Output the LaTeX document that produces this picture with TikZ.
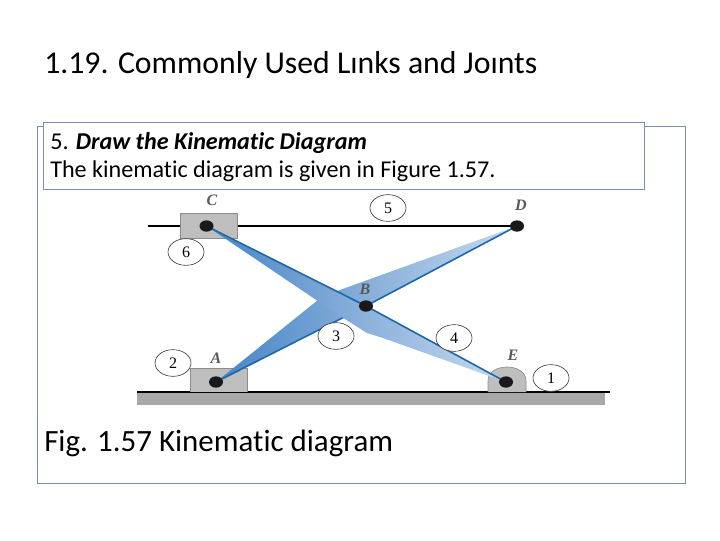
\documentclass[tikz,border=0pt]{standalone}
\usepackage{fontspec}
\setmainfont[Ligatures=NoCommon]{Carlito}
\newfontfamily\labelfont{Liberation Serif}
\usetikzlibrary{backgrounds}
\usetikzlibrary{shapes.geometric}

\definecolor{framecol}{RGB}{120,145,168}
\definecolor{blockcol}{RGB}{190,190,190}
\definecolor{groundcol}{RGB}{168,168,168}
\definecolor{linkedge}{RGB}{28,104,168}
\definecolor{linkdark}{RGB}{70,132,198}
\definecolor{linklight}{RGB}{200,217,238}

\tikzset{
  frame/.style={draw=framecol,line width=0.7pt},
  pin/.style={ellipse,fill=black!90,minimum width=10.5pt,minimum height=8.5pt,inner sep=0pt},
  num/.style={ellipse,draw=black!80,line width=0.45pt,fill=white,minimum width=27pt,minimum height=20pt,inner sep=0pt,font=\labelfont\fontsize{12}{14}\selectfont},
  letter/.style={font=\labelfont\bfseries\itshape\fontsize{12}{14}\selectfont,text=black!65},
  block/.style={draw=black!45,line width=0.5pt,fill=blockcol},
  heading/.style={anchor=base west,inner sep=0pt},
  linkedgeline/.style={draw=linkedge,line width=1.2pt},
}

\begin{document}
\begin{tikzpicture}[x=0.75pt,y=0.75pt,yscale=-1,xscale=1]
\useasboundingbox (0,0) rectangle (720,540);

% Frames
\draw [frame] (37,126) rectangle (685,483);
\node (textbox) [frame,fill=white,anchor=north west,minimum width=450.5pt,minimum height=50pt,inner sep=0pt] at (43,122) {};

% Text Node
\node (title) [heading,font=\fontsize{23.8}{26}\selectfont] at (44,73) {1.19. Commonly Used Lınks and Joınts};
\node (step) [heading,font=\fontsize{18.1}{20}\selectfont] at (50,149) {5. \textbf{\textit{Draw the Kinematic Diagram}}};
\node (given) [heading,font=\fontsize{18.1}{20}\selectfont] at (50,177) {The kinematic diagram is given in Figure 1.57.};
\node (caption) [heading,font=\fontsize{23.2}{26}\selectfont] at (44,451) {Fig. 1.57 Kinematic diagram};

% Pins
\node (C) [pin] at (206.5,226) {};
\node (D) [pin] at (517,226) {};
\node (B) [pin] at (366,306) {};
\node (A) [pin] at (216,382) {};
\node (E) [pin] at (506,382) {};
\coordinate (railstart) at (148,226);

\begin{pgfonlayer}{background}
%Ground
\fill [groundcol] (137,393) rectangle (605,405);
\draw [line width=1.3pt] (137,392) -- (610,392);
%Rail
\draw [line width=1.2pt] (railstart) -- (D.center);
%Blocks
\draw [block] (180,213) rectangle (237,238);
\draw [block] (190,392) -- (190,368) -- (247,368) -- (247,392);
\draw [block] (488,392) -- (488,381) .. controls (488,372) and (497,367) .. (507,367) .. controls (517,367) and (526,372) .. (526,381) -- (526,392);
%Link A-B-D
\shade [left color=linkdark,right color=linklight] (A.center) -- (318,300) -- (337,291) -- (D.center) -- (B.center) -- cycle;
\draw [linkedgeline] (A.center) -- (B.center) -- (D.center);
%Link C-B-E
\shade [left color=linkdark,right color=linklight] (C.center) -- (B.center) -- (E.center) -- (383,338) -- (367,333) -- (340,316) -- cycle;
\draw [linkedgeline] (C.center) -- (B.center) -- (E.center);
\end{pgfonlayer}

% Text Node
\node (labelC) [letter] at (212,200) {C};
\node (labelD) [letter] at (521,205) {D};
\node (labelB) [letter] at (365,289) {B};
\node (labelA) [letter] at (216,358) {A};
\node (labelE) [letter] at (513,355) {E};
\node (link1) [num] at (551,378) {1};
\node (link2) [num] at (173,363) {2};
\node (link3) [num] at (336,336) {3};
\node (link4) [num] at (454,338) {4};
\node (link5) [num] at (388,208) {5};
\node (link6) [num] at (186,252) {6};

\end{tikzpicture}
\end{document}
